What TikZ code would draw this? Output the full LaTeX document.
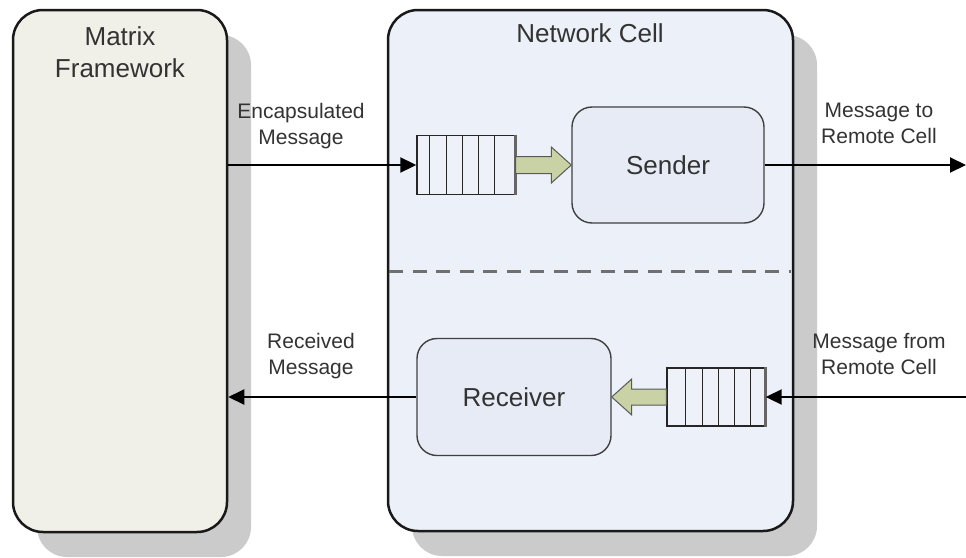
\documentclass[tikz,border=0pt]{standalone}
\usepackage{fontspec}
\setmainfont{Liberation Sans}
\usetikzlibrary{arrows.meta,calc,shadows}
\definecolor{txt}{HTML}{333333}
\definecolor{shgray}{HTML}{CBCBCB}
\definecolor{mffill}{HTML}{F0F0E8}
\definecolor{ncfill}{HTML}{ECF0F8}
\definecolor{boxfill}{HTML}{E7EBF5}
\definecolor{qfill}{HTML}{EEF2F8}
\definecolor{fatgreen}{HTML}{C9D2A5}
\definecolor{dashgray}{HTML}{707070}
\tikzset{
  bigbox/.style={draw=black!90, line width=2.5pt, rounded corners=30pt, inner sep=0pt,
    drop shadow={shadow xshift=24pt, shadow yshift=-25pt, fill=shgray, opacity=1}},
  procbox/.style={draw=black!75, line width=1.4pt, rounded corners=20pt, fill=boxfill,
    inner sep=0pt, text=txt, font=\fontsize{26}{31}\selectfont},
  queuebox/.style={draw=black!85, line width=1.4pt, fill=qfill, inner sep=0pt},
  qline/.style={draw=black!85, line width=1.4pt},
  qend/.style={draw=black!60, line width=3pt},
  conn/.style={draw=black, line width=2pt, -{Triangle[length=16pt,width=15pt]}},
  lbl/.style={text=txt, align=center, inner sep=0pt, anchor=north, font=\fontsize{21}{26}\selectfont},
  ttl/.style={text=txt, align=center, inner sep=0pt, anchor=north, font=\fontsize{26}{32}\selectfont},
  fatarrow/.style={fill=fatgreen, draw=black!65, line width=1pt, line join=miter},
  sepline/.style={draw=dashgray, line width=3pt, dash pattern=on 14pt off 9.5pt}
}
\begin{document}
\begin{tikzpicture}[x=1pt,y=-1pt]
\useasboundingbox (0,0) rectangle (966,557);
% big boxes
\node[bigbox, fill=mffill, minimum width=214pt, minimum height=522pt] (mf) at (120,271) {};
\node[bigbox, fill=ncfill, minimum width=405pt, minimum height=521pt] (nc) at (590.5,270.5) {};
% titles
\node[ttl] (mft) at (120,26) {Matrix\\Framework};
\node[ttl] (nct) at (590,23) {Network Cell};
% separator
\coordinate (sepL) at (389,271);
\coordinate (sepR) at (791,271);
\draw[sepline] (sepL) -- (sepR);
% sender side
\node[queuebox, minimum width=98pt, minimum height=59pt] (q1) at (466,165) {};
\foreach \o in {13,30,46,62,78}{
  \draw[qline] ($(q1.north west)+(\o,0)$) -- ($(q1.south west)+(\o,0)$);
}
\draw[qend] (q1.north east) -- (q1.south east);
\node[procbox, minimum width=192pt, minimum height=116pt] (s) at (668,165) {Sender};
% receiver side
\node[queuebox, minimum width=98pt, minimum height=58pt] (q2) at (716,397) {};
\foreach \o in {19,36,52,68,84}{
  \draw[qline] ($(q2.north west)+(\o,0)$) -- ($(q2.south west)+(\o,0)$);
}
\draw[qend] (q2.north east) -- (q2.south east);
\node[procbox, minimum width=194pt, minimum height=117pt] (r) at (514,397) {Receiver};
% fat arrows
\draw[fatarrow] ($(q1.east)+(0,-8.5)$) -- ($(s.west)+(-20,-8.5)$) -- ($(s.west)+(-20,-18)$) -- (s.west)
  -- ($(s.west)+(-20,18)$) -- ($(s.west)+(-20,8.5)$) -- ($(q1.east)+(0,8.5)$) -- cycle;
\draw[fatarrow] ($(q2.west)+(0,-8)$) -- ($(r.east)+(20,-8)$) -- ($(r.east)+(20,-18)$) -- (r.east)
  -- ($(r.east)+(20,18)$) -- ($(r.east)+(20,8)$) -- ($(q2.west)+(0,8)$) -- cycle;
% connectors
\coordinate (outR) at (966,165);
\coordinate (inR) at (966,397);
\draw[conn] (mf.east |- q1.west) -- (q1.west);
\draw[conn] (s.east) -- (outR);
\draw[conn] (inR) -- (q2.east);
\draw[conn] (r.west) -- (r.west -| mf.east);
% labels
\node[lbl] (l1) at (301,103) {Encapsulated\\Message};
\node[lbl] (l2) at (879,103) {Message to\\Remote Cell};
\node[lbl] (l3) at (311,333) {Received\\Message};
\node[lbl] (l4) at (879,333) {Message from\\Remote Cell};
\end{tikzpicture}
\end{document}
